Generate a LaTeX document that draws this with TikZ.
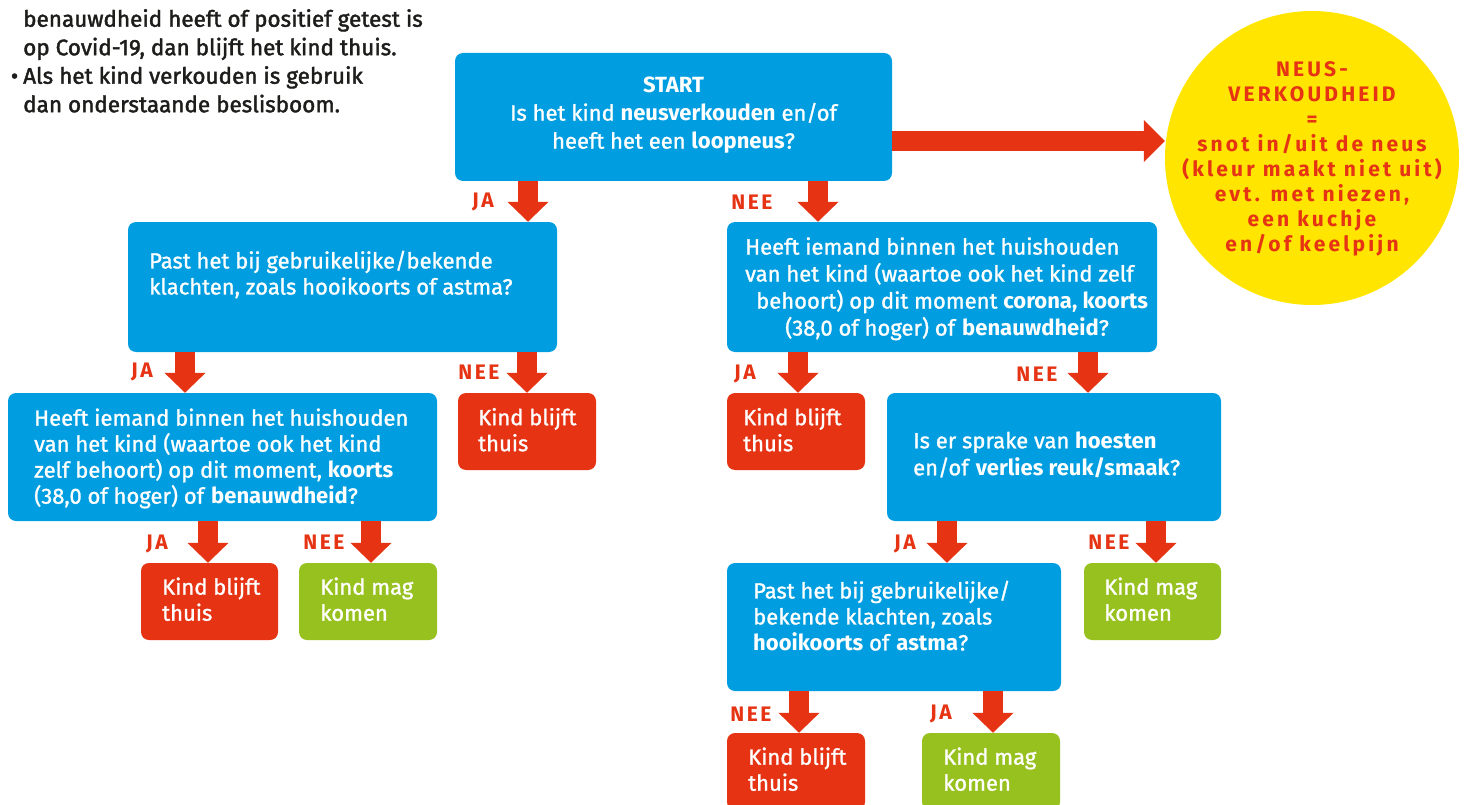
\documentclass[tikz,border=0pt]{standalone}
\usepackage{fontspec}
\setmainfont{Fira Sans}[UprightFeatures={FakeBold=1.2}]
\newfontfamily\spaced{Fira Sans}[LetterSpace=12]
\newfontfamily\circfont{Fira Sans}[LetterSpace=15]
\newfontfamily\introfont{Fira Sans}[FakeBold=1.8]
\usetikzlibrary{arrows.meta}
\definecolor{cblue}{RGB}{0,158,224}
\definecolor{cred}{RGB}{229,51,19}
\definecolor{cgreen}{RGB}{151,193,31}
\definecolor{cyellow}{RGB}{255,229,0}
\definecolor{ctext}{RGB}{29,29,27}
\tikzset{
  box/.style={rounded corners=8pt, inner sep=0pt, draw=none},
  bluebox/.style={box, fill=cblue},
  redbox/.style={box, fill=cred, minimum height=77pt},
  greenbox/.style={box, fill=cgreen, minimum height=77pt},
  txt/.style={text=white, align=left, anchor=west, inner sep=0pt,
    font=\fontsize{22}{26}\selectfont,
    execute at begin node=\strut, execute at end node=\strut},
  wide/.style={font=\fontsize{22}{27}\selectfont},
  lbl/.style={text=cred, font=\spaced\bfseries\fontsize{21}{24}\selectfont, inner sep=0pt},
  flow/.style={draw=cred, line width=20pt, -{Triangle[width=40pt,length=20pt]}},
}
\begin{document}
\begin{tikzpicture}[x=1pt,y=-1pt]
\useasboundingbox (0,0) rectangle (1469,805);
\clip (0,0) rectangle (1469,805);

% intro text
\node[anchor=west, align=left, text=ctext, inner sep=0pt,
  font=\introfont\fontsize{22.5}{28.5}\selectfont,
  execute at begin node=\strut, execute at end node=\strut] (intro) at (23,65)
  {benauwdheid heeft of positief getest is\\op Covid-19, dan blijft het kind thuis.\\\llap{•\hspace{5pt}}Als het kind verkouden is gebruik\\dan onderstaande beslisboom.};

% boxes
\node[bluebox, minimum width=437pt, minimum height=128pt] (S) at (673.5,117) {};
\node[circle, fill=cyellow, minimum size=294pt, inner sep=0pt] (N) at (1312,158) {};
\node[bluebox, minimum width=429pt, minimum height=130pt] (A) at (342.5,287) {};
\node[bluebox, minimum width=430pt, minimum height=130pt] (B) at (942,287) {};
\node[bluebox, minimum width=429pt, minimum height=128pt] (C) at (222.5,457) {};
\node[redbox, minimum width=138pt] (D1) at (527,431.5) {};
\node[redbox, minimum width=138pt] (D2) at (796,431.5) {};
\node[bluebox, minimum width=334pt, minimum height=128pt] (E) at (1054,457) {};
\node[redbox, minimum width=137pt] (D3) at (209.5,601.5) {};
\node[greenbox, minimum width=138pt] (G1) at (368,601.5) {};
\node[bluebox, minimum width=334pt, minimum height=128pt] (F) at (894,627) {};
\node[greenbox, minimum width=137pt] (G2) at (1152.5,601.5) {};
\node[redbox, minimum width=138pt] (D4) at (796,771.5) {};
\node[greenbox, minimum width=138pt] (G3) at (991,771.5) {};

% box texts
\node[txt, align=center, anchor=center, font=\fontsize{22}{28}\selectfont] (St) at (673.5,117)
  {\textbf{START}\\Is het kind \textbf{neusverkouden} en/of\\heeft het een \textbf{loopneus}?};
\node[txt] (At) at (149,276.5)
  {Past het bij gebruikelijke/bekende\\klachten, zoals hooikoorts of astma?};
\node[txt, wide] (Bt) at (745,290.5)
  {Heeft iemand binnen het huishouden\\van het kind (waartoe ook het kind zelf\\\hspace*{11pt}behoort) op dit moment \textbf{corona, koorts}\\\hspace*{40pt}(38,0 of hoger) of \textbf{benauwdheid}?};
\node[txt] (Ct) at (34,460)
  {Heeft iemand binnen het huishouden\\van het kind (waartoe ook het kind\\zelf behoort) op dit moment, \textbf{koorts}\\(38,0 of hoger) of \textbf{benauwdheid}?};
\node[txt] (D1t) at (478,433.5) {Kind blijft\\thuis};
\node[txt] (D2t) at (743,433.5) {Kind blijft\\thuis};
\node[txt, wide] (Et) at (913,457.5) {Is er sprake van \textbf{hoesten}\\en/of \textbf{verlies reuk/smaak}?};
\node[txt] (D3t) at (162,603) {Kind blijft\\thuis};
\node[txt] (G1t) at (320,603) {Kind mag\\komen};
\node[txt] (Ft) at (753,619.5) {Past het bij gebruikelijke/\\bekende klachten, zoals\\\textbf{hooikoorts} of \textbf{astma}?};
\node[txt] (G2t) at (1104,603) {Kind mag\\komen};
\node[txt] (D4t) at (748,773) {Kind blijft\\thuis};
\node[txt] (G3t) at (943,773) {Kind mag\\komen};

% circle text
\node[text=cred, align=center, inner sep=0pt,
  font=\circfont\bfseries\fontsize{21}{25}\selectfont,
  execute at begin node=\strut, execute at end node=\strut] (Nt) at (1312,160)
  {NEUS-\\VERKOUDHEID\\=\\snot in/uit de neus\\(kleur maakt niet uit)\\evt. met niezen,\\een kuchje\\en/of keelpijn};

% labels
\node[lbl] (l1) at (483,202) {JA};
\node[lbl] (l2) at (752,202) {NEE};
\node[lbl] (l3) at (142,372) {JA};
\node[lbl] (l4) at (479,372) {NEE};
\node[lbl] (l5) at (745,374) {JA};
\node[lbl] (l6) at (1037,374) {NEE};
\node[lbl] (l7) at (157,544) {JA};
\node[lbl] (l8) at (324,542) {NEE};
\node[lbl] (l9) at (905,544) {JA};
\node[lbl] (l10) at (1109,542) {NEE};
\node[lbl] (l11) at (751,714) {NEE};
\node[lbl] (l12) at (941,714) {JA};

% arrows
\draw[flow, -{Triangle[width=41pt,length=21pt]}] (S.east |- 0,141) -- (N.west |- 0,141);
\draw[flow] (528,0 |- S.south) -- (528,0 |- A.north);
\draw[flow] (818,0 |- S.south) -- (818,0 |- B.north);
\draw[flow] (185,0 |- A.south) -- (185,0 |- C.north);
\draw[flow] (527,0 |- A.south) -- (527,0 |- D1.north);
\draw[flow] (798,0 |- B.south) -- (798,0 |- D2.north);
\draw[flow] (1088,0 |- B.south) -- (1088,0 |- E.north);
\draw[flow] (208,0 |- C.south) -- (208,0 |- D3.north);
\draw[flow] (371,0 |- C.south) -- (371,0 |- G1.north);
\draw[flow] (947,0 |- E.south) -- (947,0 |- F.north);
\draw[flow] (1156,0 |- E.south) -- (1156,0 |- G2.north);
\draw[flow] (799,0 |- F.south) -- (799,0 |- D4.north);
\draw[flow] (993,0 |- F.south) -- (993,0 |- G3.north);
\end{tikzpicture}
\end{document}
